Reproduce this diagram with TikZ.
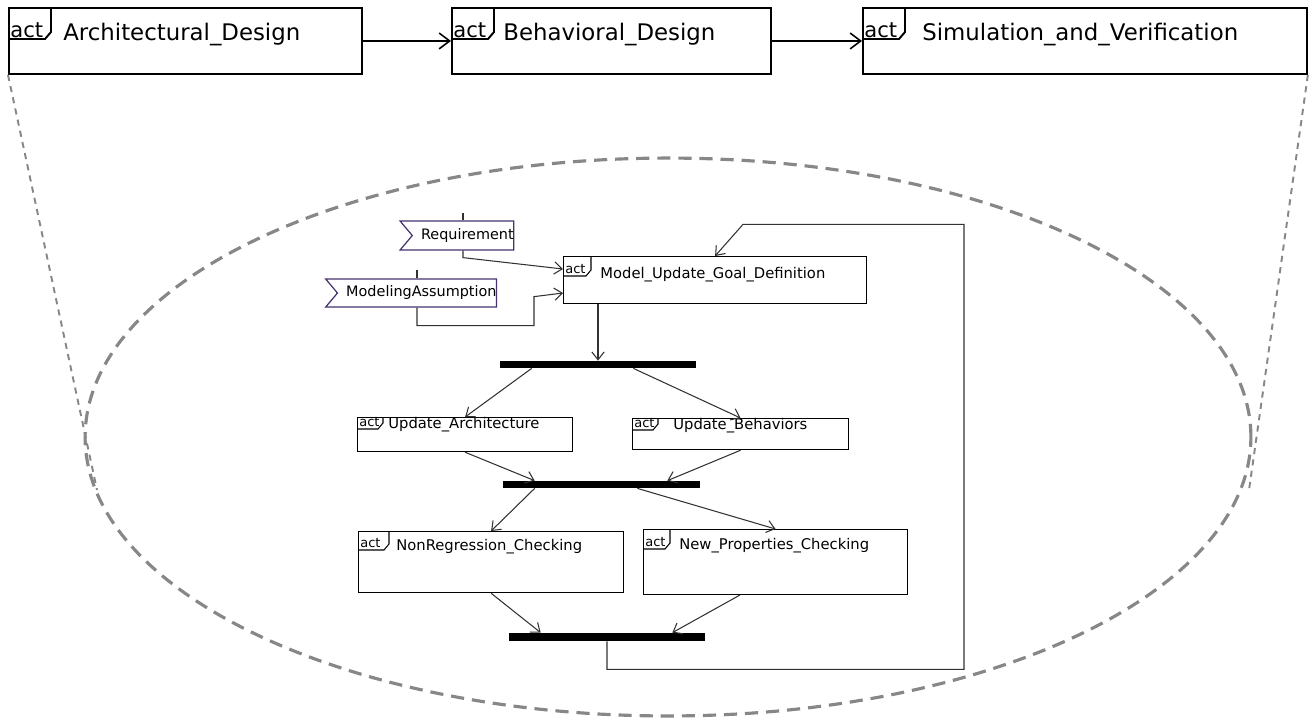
\documentclass[tikz,border=0pt]{standalone}
\usepackage{fontspec}
\setmainfont{DejaVu Sans}
\usepackage{tikz}
\usetikzlibrary{shapes,arrows.meta,calc}
\definecolor{sigedge}{RGB}{70,50,110}
\definecolor{connector}{RGB}{50,50,50}
\definecolor{dashgray}{RGB}{135,135,135}
\tikzstyle{phase} = [rectangle, draw, line width=1.1pt, anchor=north west, inner sep=0pt, minimum height=1.32cm]
\tikzstyle{activity} = [rectangle, draw, line width=0.7pt, anchor=north west, inner sep=0pt]
\tikzstyle{fork} = [rectangle, fill=black, inner sep=0pt, minimum width=3.92cm]
\tikzstyle{pin} = [signal, draw=sigedge, line width=0.7pt, signal from=west, signal to=nowhere, signal pointer angle=100, inner sep=0pt, font=\fontsize{8.2}{9}\selectfont]
\tikzstyle{bigtext} = [anchor=base west, inner sep=0pt, font=\fontsize{13}{15}\selectfont]
\tikzstyle{bigact} = [anchor=base west, inner sep=0pt, font=\fontsize{12}{14}\selectfont]
\tikzstyle{smalltext} = [anchor=base west, inner sep=0pt, font=\fontsize{8.4}{10}\selectfont]
\tikzstyle{smallact} = [anchor=base west, inner sep=0pt, font=\fontsize{7.4}{9}\selectfont]
\tikzstyle{flow} = [draw=connector, line width=0.6pt, -{Straight Barb[length=4.5pt,width=7pt]}]
\tikzstyle{bigflow} = [draw, line width=0.9pt, -{Straight Barb[length=6pt,width=9pt]}]
\tikzstyle{zoomLine} = [draw=dashgray, line width=1.1pt, dash pattern=on 3.5pt off 3pt]
\tikzstyle{zoomOval} = [draw=dashgray, line width=1.8pt, dash pattern=on 7.5pt off 4.5pt]

\begin{document}
\begin{tikzpicture}[x=0.02cm, y=-0.02cm]
    \useasboundingbox (0,0) rectangle (1310,721);
    % design phases
    \node [phase, minimum width=7.06cm] (archDesign) at (8,7) {};
    \node [phase, minimum width=6.38cm] (behDesign) at (451,7) {};
    \node [phase, minimum width=8.88cm] (simVerif) at (862,7) {};
    \node [bigtext] (archDesignLbl) at ($(archDesign.north west)+(55,33)$) {Architectural\_Design};
    \node [bigtext] (behDesignLbl) at ($(behDesign.north west)+(52,33)$) {Behavioral\_Design};
    \node [bigtext] (simVerifLbl) at ($(simVerif.north west)+(60,33)$) {Simulation\_and\_Verification};
    \foreach \n in {archDesign,behDesign,simVerif} {
        \draw [line width=1.1pt] (\n.north west) ++(43,0) -- ++(0,25) -- ++(-6,7) -- ++(-37,0);
        \node [bigact] (\n-act) at ($(\n.north west)+(2,30)$) {act};
    }
    \path [bigflow] (archDesign) -- (behDesign);
    \path [bigflow] (behDesign) -- (simVerif);

    % zoom into the behavioral design
    \coordinate (leftEnd) at (97,490);
    \coordinate (rightEnd) at (1249,490);
    \path [zoomLine] (archDesign.south west) -- (leftEnd);
    \path [zoomLine] (simVerif.south east) -- (rightEnd);
    \path [zoomOval] (668,437) ellipse [x radius=11.66cm, y radius=5.58cm];

    % inner activity
    \node [pin, minimum width=2.18cm, minimum height=0.58cm] (req) at (463,235.5) {\hspace{5pt}Requirement};
    \node [pin, minimum width=3.38cm, minimum height=0.56cm] (ma) at (417,293) {\hspace{5pt}ModelingAssumption};
    \node [activity, minimum width=6.06cm, minimum height=0.94cm] (model) at (563,256) {};
    \node [activity, minimum width=4.30cm, minimum height=0.68cm] (updArch) at (357,417) {};
    \node [activity, minimum width=4.32cm, minimum height=0.62cm] (updBeh) at (632,418) {};
    \node [activity, minimum width=5.30cm, minimum height=1.22cm] (nonReg) at (358,531) {};
    \node [activity, minimum width=5.28cm, minimum height=1.30cm] (newProps) at (643,529) {};
    \node [fork, minimum height=0.14cm] (bar1) at (598,364.5) {};
    \node [fork, minimum width=3.94cm, minimum height=0.14cm] (bar2) at (601.5,484.5) {};
    \node [fork, minimum height=0.16cm] (bar3) at (607,637) {};
    \node [smalltext] (modelLbl) at ($(model.north west)+(37,22)$) {Model\_Update\_Goal\_Definition};
    \node [smalltext] (updArchLbl) at ($(updArch.north west)+(31,11)$) {Update\_Architecture};
    \node [smalltext] (updBehLbl) at ($(updBeh.north west)+(41,11)$) {Update\_Behaviors};
    \node [smalltext] (nonRegLbl) at ($(nonReg.north west)+(38,19)$) {NonRegression\_Checking};
    \node [smalltext] (newPropsLbl) at ($(newProps.north west)+(36,20)$) {New\_Properties\_Checking};
    \foreach \n/\w/\h in {model/28/20, updArch/26/12, updBeh/26/12, nonReg/31/19, newProps/27/20} {
        \draw [line width=0.6pt] (\n.north west) ++(\w,0) -- ++(0,\h-6) -- ++(-5,6) -- ++(-\w+5,0);
        \node [smallact] (\n-act) at ($(\n.north west)+(2,\h-3)$) {act};
    }
    \draw [connector, line width=0.6pt] (req.north) -- ++(0,-7);
    \draw [connector, line width=0.6pt] (ma.north) -- ++(0,-8);
    \path [flow] (req.south) -- ++(0,7) -- ($(model.north west)+(0,13)$);
    \path [flow] (ma.south) -- ++(0,18) -- ++(117,0) -- ++(0,-29) -- ($(model.north west)+(0,37)$);
    \path [flow] (model.south -| bar1.north) -- (bar1.north);
    \path [flow] ($(bar1.south west)+(32,0)$) -- (updArch.north);
    \path [flow] ($(bar1.south east)+(-63,0)$) -- (updBeh.north);
    \path [flow] (updArch.south) -- ($(bar2.north west)+(32,0)$);
    \path [flow] (updBeh.south) -- ($(bar2.north east)+(-33,0)$);
    \path [flow] ($(bar2.south west)+(32,0)$) -- (nonReg.north);
    \path [flow] ($(bar2.south east)+(-63,0)$) -- (newProps.north);
    \path [flow] (nonReg.south) -- ($(bar3.north west)+(32,0)$);
    \path [flow] ($(newProps.south)+(-36,0)$) -- ($(bar3.north east)+(-33,0)$);
    \path [flow] (bar3.south) -- ++(0,28) -- ++(357,0) -- ++(0,-445) -- ++(-221,0) -- (model.north);
\end{tikzpicture}
\end{document}
